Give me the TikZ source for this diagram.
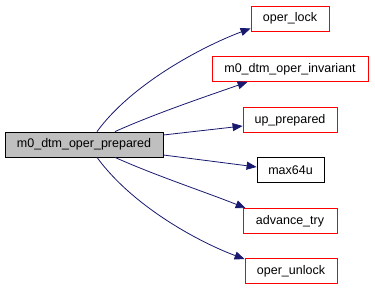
\documentclass[tikz,border=0pt]{standalone}
\usepackage{fontspec}
\setmainfont{Liberation Sans}
\usetikzlibrary{arrows.meta}
\definecolor{edgeblue}{HTML}{191970}
\definecolor{nodegray}{HTML}{BFBFBF}
\tikzset{
  fn/.style={draw=red, fill=white, line width=0.8pt, minimum height=25pt,
    inner sep=0pt, font=\fontsize{12.5pt}{14pt}\selectfont, anchor=center},
  ext/.style={fn, draw=black},
  root/.style={fn, draw=black, fill=nodegray},
  call/.style={draw=edgeblue, line width=0.8pt,
    -{Triangle[length=10pt,width=8pt,fill=edgeblue]}},
}
\begin{document}
\begin{tikzpicture}[x=1pt,y=-1pt]
\useasboundingbox (0,0) rectangle (375,291);
\fill[white] (0,0) rectangle (375,291);
% function boxes
\node[root, minimum width=158pt] (main) at (84,144.5) {m0\_dtm\_oper\_prepared};
\node[fn, minimum width=78pt] (lock) at (290,18.5) {oper\_lock};
\node[fn, minimum width=156pt] (inv) at (290,69) {m0\_dtm\_oper\_invariant};
\node[fn, minimum width=94pt] (upp) at (290,120) {up\_prepared};
\node[ext, minimum width=67pt] (max) at (290.5,170) {max64u};
\node[fn, minimum width=94pt] (adv) at (290,221) {advance\_try};
\node[fn, minimum width=92pt] (unl) at (291,271) {oper\_unlock};
% edge start points on the caller box
\coordinate (s1) at ([xshift=13pt]main.north);
\coordinate (s2) at ([xshift=31pt]main.north);
\coordinate (s3) at ([yshift=9.5pt]main.east);
\coordinate (s4) at ([yshift=-10.5pt]main.east);
\coordinate (s5) at ([xshift=31pt]main.south);
\coordinate (s6) at ([xshift=13pt]main.south);
% call edges
\draw[call] (s1) .. controls +(35,-48) and +(-48,18) .. ([yshift=3pt]lock.south west);
\draw[call] (s2) .. controls +(40,-18) and +(-40,14) .. ([xshift=36pt]inv.south west);
\draw[call] (s3) -- ([yshift=-6pt]upp.west);
\draw[call] (s4) -- ([yshift=3pt]max.west);
\draw[call] (s5) .. controls +(40,18) and +(-40,-16) .. ([xshift=3pt]adv.north west);
\draw[call] (s6) .. controls +(35,48) and +(-48,-18) .. ([yshift=-1pt]unl.north west);
\end{tikzpicture}
\end{document}
